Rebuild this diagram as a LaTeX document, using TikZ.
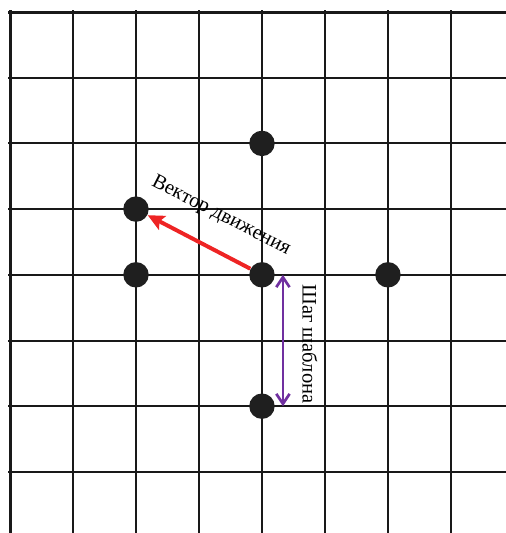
\documentclass[tikz,border=0pt]{standalone}
\usepackage{fontspec}
\setmainfont{Liberation Serif}
\usepackage{xcolor}
\usetikzlibrary{calc, positioning}
\usetikzlibrary{arrows.meta}

\definecolor{moveRed}{RGB}{238,36,36}
\definecolor{stepPurple}{RGB}{112,48,160}

\begin{document}
\begin{tikzpicture}[x=1cm, y=1.043cm,
    gridline/.style={line width=0.9pt, black!90},
    border/.style={line width=1.35pt, black!90},
    point/.style={circle, fill=black!88, inner sep=0pt, minimum size=11.5pt},
    moveArrow/.style={line width=1.8pt, moveRed, -{Stealth[length=7.5pt, width=7pt, inset=1.5pt]}},
    stepArrow/.style={line width=1.2pt, stepPurple,
        {Straight Barb[length=4.5pt, width=6pt]}-{Straight Barb[length=4.5pt, width=6pt]}},
    caption/.style={text=black, inner sep=0pt, font=\fontsize{9.3}{11}\selectfont}]
\useasboundingbox (-0.159,0.183) rectangle (7.873,-7.930);

% Grid of the search area
\foreach \i in {1,...,7}
    \draw[gridline] (\i,0.03) -- (\i,-7.93);
\foreach \j in {1,...,7}
    \draw[gridline] (-0.03,-\j) -- (7.873,-\j);
\draw[border] (-0.03,0) -- (7.873,0);
\draw[border] (0,0.03) -- (0,-7.93);

% Pattern points
\node[point] (Pcenter) at (4,-4) {};
\node[point] (Pup) at (4,-2) {};
\node[point] (Pdown) at (4,-6) {};
\node[point] (Pleft) at (2,-4) {};
\node[point] (Pright) at (6,-4) {};
\node[point] (Pmove) at (2,-3) {};

% Motion vector
\draw[moveArrow] (Pcenter) -- (Pmove);
\node[caption, rotate=-27] (MoveLabel) at (3.349,-3.105) {Вектор движения};

% Pattern step
\coordinate (StepTop) at ($(Pcenter)+(0.333,0)$);
\coordinate (StepBot) at ($(Pdown)+(0.333,0)$);
\draw[stepArrow] (StepTop) -- (StepBot);
\node[caption, rotate=-90] (StepLabel) at (4.762,-5.053) {Шаг шаблона};
\end{tikzpicture}
\end{document}
